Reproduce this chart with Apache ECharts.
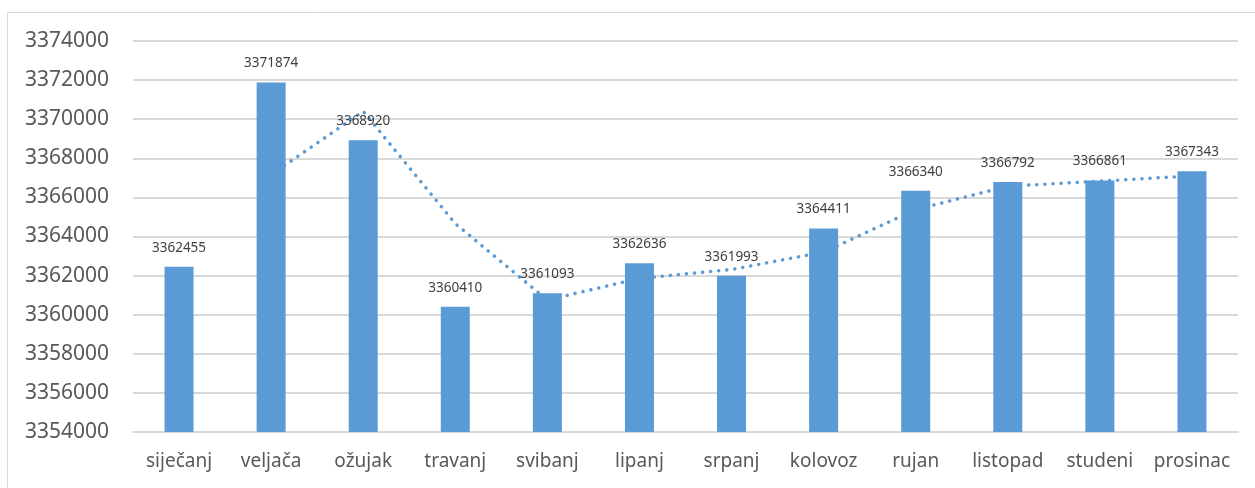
<!DOCTYPE html>
<html>
<head>
<meta charset="utf-8">
<script src="https://cdn.jsdelivr.net/npm/echarts@6/dist/echarts.min.js"></script>
<style>
    html, body { margin: 0; padding: 0; background: #fff; }
    #chart { width: 1255px; height: 488px; }
</style>
</head>
<body>
<div id="chart"></div>
<script>
// mjeseci
var months = ['siječanj', 'veljača', 'ožujak', 'travanj', 'svibanj', 'lipanj',
    'srpanj', 'kolovoz', 'rujan', 'listopad', 'studeni', 'prosinac'];
// vrijednosti stupaca
var values = [3362455, 3371874, 3368920, 3360410, 3361093, 3362636,
    3361993, 3364411, 3366340, 3366792, 3366861, 3367343];
// pomični prosjek (očitano sa slike)
var trend = [null, 3367160, 3370400, 3364660, 3360750, 3361860,
    3362310, 3363200, 3365380, 3366570, 3366830, 3367100];
// oznake osi y
var yMin = 3354000;
var yMax = 3374000;
var yStep = 2000;

var chart = echarts.init(document.getElementById('chart'));
var option = {
    animation: false,
    textStyle: {fontFamily: 'Noto Sans'},
    graphic: [{
        type: 'rect',
        shape: {x: 7.5, y: 12.5, width: 1300, height: 520},
        style: {fill: 'none', stroke: '#d9d9d9', lineWidth: 1},
        z: -10
    }],
    grid: {
        left: 133,
        right: 17,
        top: 41,
        bottom: 56
    },
    xAxis: {
        type: 'category',
        data: months,
        axisLine: {lineStyle: {color: '#d9d9d9', width: 2}},
        axisTick: {show: false},
        axisLabel: {color: '#595959', fontSize: 19, margin: 20, interval: 0, hideOverlap: false}
    },
    yAxis: {
        type: 'value',
        min: yMin,
        max: yMax,
        interval: yStep,
        axisLine: {show: false},
        axisTick: {show: false},
        splitLine: {lineStyle: {color: '#d9d9d9', width: 2}},
        axisLabel: {
            color: '#595959',
            fontSize: 21,
            margin: 24,
            formatter: function (v) {
                return String(v);
            }
        }
    },
    series: [
        {
            name: 'trend',
            type: 'line',
            data: trend,
            z: 1,
            symbol: 'none',
            smooth: false,
            lineStyle: {color: '#5b9bd5', width: 3.5, type: [0.1, 8], cap: 'round'}
        },
        {
            name: 'vrijednost',
            type: 'bar',
            data: values,
            z: 2,
            barWidth: 29,
            itemStyle: {color: '#5b9bd5'},
            label: {
                show: true,
                position: 'top',
                distance: 12,
                color: '#404040',
                fontSize: 13.5
            }
        }
    ]
};
chart.setOption(option);
</script>
</body>
</html>
